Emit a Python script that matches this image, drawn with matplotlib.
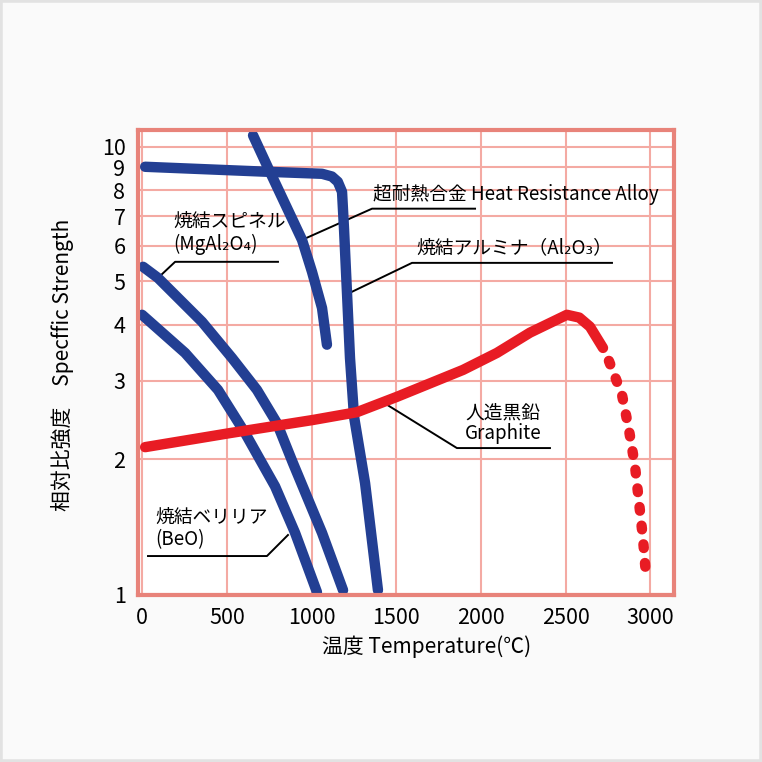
import numpy as np
import matplotlib
matplotlib.use('Agg')
import matplotlib.pyplot as plt
from matplotlib.patches import Rectangle
from matplotlib.ticker import NullLocator

plt.rcParams['font.family'] = ['Noto Sans CJK JP', 'DejaVu Sans']

# data (temperature in C, specific strength, log scale)
alumina_t = [18, 743, 1062, 1120, 1155, 1180, 1192, 1209, 1227, 1251, 1316, 1392]
alumina_s = [9.02, 8.79, 8.70, 8.58, 8.35, 7.93, 6.52, 4.74, 3.37, 2.49, 1.77, 1.02]

alloy_t = [655, 743, 855, 944, 1003, 1062, 1091]
alloy_s = [10.6, 8.98, 7.30, 6.19, 5.25, 4.36, 3.61]

spinel_t = [6, 94, 354, 531, 678, 796, 891, 1062, 1186]
spinel_s = [5.39, 5.09, 4.06, 3.37, 2.86, 2.41, 1.96, 1.37, 1.02]

beo_t = [0, 254, 448, 608, 785, 903, 1032]
beo_s = [4.21, 3.46, 2.86, 2.29, 1.74, 1.37, 1.01]

graphite_t = [18, 519, 1009, 1268, 1504, 1894, 2094, 2289, 2507, 2580, 2643, 2720]
graphite_s = [2.13, 2.29, 2.45, 2.55, 2.76, 3.17, 3.46, 3.84, 4.21, 4.15, 3.96, 3.55]
# dotted (uncertain) part after the peak
graphite_dot_t = [2755, 2832, 2873, 2909, 2932, 2956, 2973]
graphite_dot_s = [3.32, 2.79, 2.33, 1.93, 1.61, 1.33, 1.11]

yticks = [1, 2, 3, 4, 5, 6, 7, 8, 9, 10]
xticks = [0, 500, 1000, 1500, 2000, 2500, 3000]

blue = '#233f93'
red = '#e81c24'
frame = '#e8837a'
gridc = '#f4aaa3'

fig = plt.figure(figsize=(7.62, 7.62), dpi=100, facecolor='#fafafa')
fig.patches.append(Rectangle((0, 0), 1, 1, transform=fig.transFigure, fill=False,
                             edgecolor='#e2e2e2', lw=4))
ax = fig.add_axes([138/762, 1-595/762, 536/762, 465/762])
ax.set_facecolor('white')

ax.set_yscale('log')
ax.set_xlim(-24, 3139)
ax.set_ylim(0.995, 10.9)
ax.set_yticks(yticks)
ax.set_yticklabels([str(v) for v in yticks])
ax.yaxis.set_minor_locator(NullLocator())
ax.set_xticks(xticks)
ax.set_xticklabels([str(v) for v in xticks])
ax.tick_params(length=0, pad=9, labelsize=15.5)
for s in ax.spines.values():
    s.set_color(frame)
    s.set_linewidth(3)
    s.set_zorder(5)
ax.grid(True, color=gridc, lw=1.5, zorder=0)
ax.set_axisbelow(True)

kw = dict(lw=7.5, solid_capstyle='round', solid_joinstyle='round', zorder=3)
ax.plot(alumina_t, alumina_s, color=blue, **kw)
ax.plot(alloy_t, alloy_s, color=blue, clip_on=False, **kw)
ax.plot(spinel_t, spinel_s, color=blue, **kw)
ax.plot(beo_t, beo_s, color=blue, **kw)
ax.plot(graphite_t, graphite_s, color=red, **kw)
ax.plot(graphite_dot_t, graphite_dot_s, color=red, lw=7.5, dashes=(0.35, 1.45),
        dash_capstyle='round', zorder=3)

# annotations: underline (x0, x1, y) + leader from the start end to the curve
def label(lines, tx, ty, ul, ptr, from_right=False):
    for txt, yy in zip(lines, ty):
        ax.text(tx, yy, txt, fontsize=13.5, va='center', ha='left', zorder=4)
    x0, x1, yu = ul
    if from_right:
        xs, ys = [x0, x1, ptr[0]], [yu, yu, ptr[1]]
    else:
        xs, ys = [x1, x0, ptr[0]], [yu, yu, ptr[1]]
    ax.plot(xs, ys, color='black', lw=1.4, zorder=2)

label(['超耐熱合金 Heat Resistance Alloy'], 1363, [7.81], (1357, 1965, 7.27), (944, 6.19))
label(['焼結アルミナ（Al₂O₃）'], 1617, [5.94], (1593, 2773, 5.50), (1239, 4.74))
label(['焼結スピネル', '(MgAl₂O₄)'], 183, [6.80, 6.04], (195, 802, 5.53), (94, 5.09))
label(['焼結ベリリア', '(BeO)'], 77, [1.487, 1.32], (35, 737, 1.216), (861, 1.355),
      from_right=True)
label(['人造黒鉛', 'Graphite'], 1906, [2.54, 2.29], (1858, 2407, 2.12), (1445, 2.65))

fig.text(427/762, 1-647/762, '温度 Temperature(℃)', fontsize=15, ha='center', va='center')
fig.text(62/762, 1-365/762, '相対比強度　Specffic Strength', fontsize=15, rotation=90,
         ha='center', va='center')

plt.savefig('out.png', dpi=100, facecolor=fig.get_facecolor())
